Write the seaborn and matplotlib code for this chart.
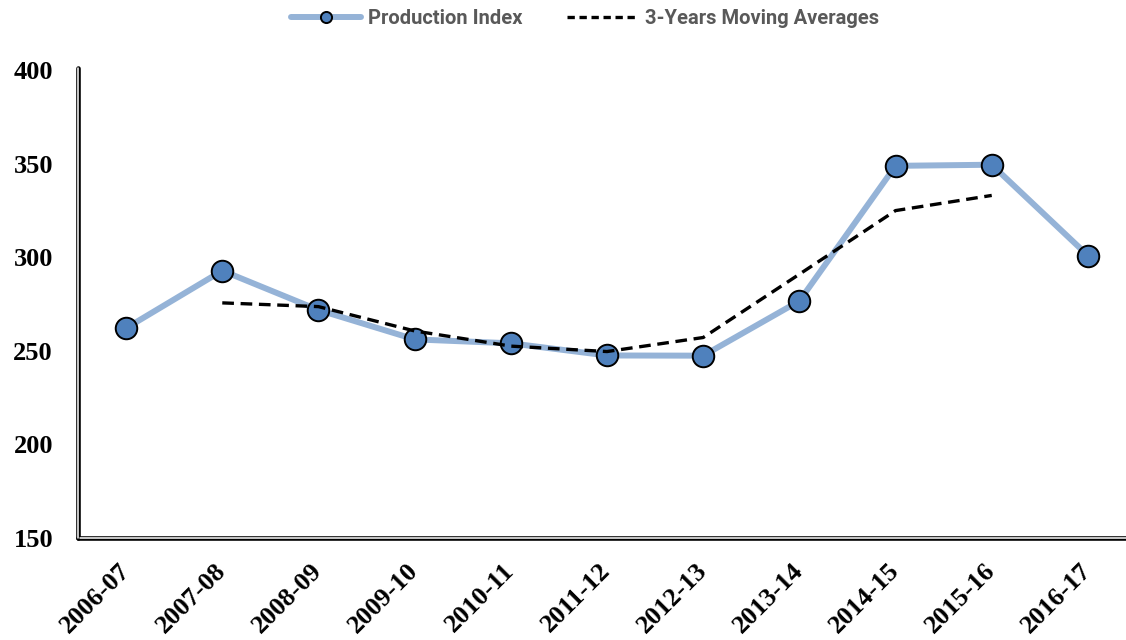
import numpy as np
import pandas as pd
import matplotlib
matplotlib.use("Agg")
import matplotlib.pyplot as plt
from matplotlib.lines import Line2D
import seaborn as sns

years = ["2006-07", "2007-08", "2008-09", "2009-10", "2010-11", "2011-12",
         "2012-13", "2013-14", "2014-15", "2015-16", "2016-17"]
production_index = [262.1, 292.8, 271.8, 256.1, 254.0, 247.5, 247.4, 276.6, 348.8, 349.4, 300.9]
moving_avg = [np.nan, 275.6, 273.6, 260.6, 252.5, 249.6, 257.1, 290.9, 324.9, 333.0, np.nan]

df = pd.DataFrame({"pos": np.arange(len(years)), "year": years,
                   "index": production_index, "ma": moving_avg})

sns.set_style("white")
fig = plt.figure(figsize=(11.26, 6.4), dpi=100)
ax = fig.add_axes([78 / 1126, 102 / 640, 1058 / 1126, 468 / 640])

sns.lineplot(data=df, x="pos", y="index", ax=ax, color="#95B3D7", linewidth=4.3,
             marker="o", markersize=15.5, markerfacecolor="#4F81BD",
             markeredgecolor="black", markeredgewidth=1.4, zorder=3)
sns.lineplot(data=df.dropna(), x="pos", y="ma", ax=ax, color="black", linewidth=2.4,
             zorder=4)
ax.lines[-1].set_dashes((3.5, 2.0))

ax.set_xlim(-0.5, 10.5)
ax.set_ylim(150, 400)
ax.set_yticks([150, 200, 250, 300, 350, 400])
ax.set_xticks(df["pos"])
ax.set_xticklabels(years, rotation=45, ha="right", va="center", rotation_mode="anchor")
ax.set_xlabel("")
ax.set_ylabel("")
ax.tick_params(axis="both", length=0)
ax.tick_params(axis="y", pad=18)
ax.tick_params(axis="x", pad=21)
for lab in ax.get_xticklabels() + ax.get_yticklabels():
    lab.set_fontfamily("Liberation Serif")
    lab.set_fontweight("bold")
    lab.set_fontsize(19)
    lab.set_color("black")

for s in ax.spines.values():
    s.set_visible(False)

# double-line axes
ax.add_line(Line2D([0, 0], [0, 1.005], transform=ax.transAxes, color="black",
                   lw=3.3, clip_on=False, zorder=5))
ax.add_line(Line2D([0, 0], [0, 1.005], transform=ax.transAxes, color="white",
                   lw=1.1, clip_on=False, zorder=6))
ax.add_line(Line2D([0, 1], [0, 0], transform=ax.transAxes, color="black",
                   lw=3.3, clip_on=False, zorder=5))
ax.add_line(Line2D([0.002, 1], [0, 0], transform=ax.transAxes, color="white",
                   lw=1.1, clip_on=False, zorder=6))

handles = [
    Line2D([], [], color="#95B3D7", lw=4.3, marker="o", markersize=8,
           markerfacecolor="#4F81BD", markeredgecolor="black", markeredgewidth=1.4),
    Line2D([], [], color="black", lw=2.4, dashes=(2.2, 1.4)),
]
labels = ["Production Index", "3-Years Moving Averages"]
leg = fig.legend(handles, labels, loc="center", bbox_to_anchor=(0.5195, 0.971), ncol=2,
                 frameon=False, handlelength=3.5, handletextpad=0.35, columnspacing=2.2,
                 prop={"family": "Roboto", "weight": "bold", "size": 14.5})
for t in leg.get_texts():
    t.set_color("#595959")

fig.savefig("out.png", dpi=100)
